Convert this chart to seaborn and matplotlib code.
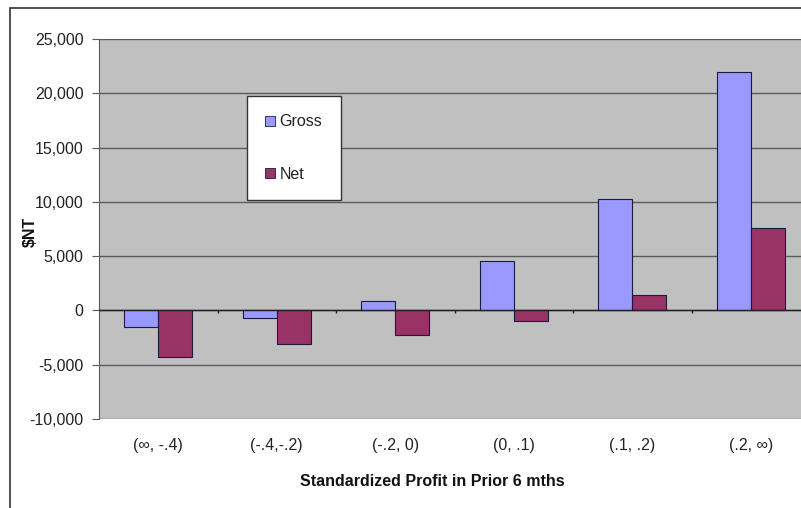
import matplotlib
matplotlib.use("Agg")
import matplotlib.pyplot as plt
from matplotlib.patches import Patch, Rectangle
from matplotlib.ticker import FuncFormatter
import pandas as pd
import seaborn as sns

categories = ["(\u221e, -.4)", "(-.4,-.2)", "(-.2, 0)", "(0, .1)", "(.1, .2)", "(.2, \u221e)"]
gross = [-1550, -700, 900, 4550, 10300, 22000]
net = [-4300, -3050, -2300, -1000, 1400, 7550]
series = ["Gross", "Net"]
colors = {"Gross": "#9999FF", "Net": "#993366"}

df = pd.DataFrame({
    "bucket": categories * 2,
    "series": ["Gross"] * len(categories) + ["Net"] * len(categories),
    "value": gross + net,
})

sns.set_style("white")
plt.rcParams["font.family"] = ["Liberation Sans", "DejaVu Sans"]

fig = plt.figure(figsize=(8.01, 5.08), dpi=100)
ax = fig.add_axes([99 / 801, 89 / 508, 711 / 801, 380 / 508])
ax.set_facecolor("#C0C0C0")

sns.barplot(data=df, x="bucket", y="value", hue="series", hue_order=series,
            order=categories, palette=colors, width=0.574, gap=0,
            edgecolor="#1a1a40", linewidth=0.8, saturation=1, ax=ax, legend=False)

ax.set_ylim(-10000, 25000)
ax.set_xlim(-0.5, len(categories) - 0.5)
ax.set_yticks(range(-10000, 25001, 5000))
ax.yaxis.set_major_formatter(FuncFormatter(lambda v, p: f"{int(v):,}"))
ax.grid(axis="y", color="#5a5a5a", linewidth=1)
ax.set_axisbelow(True)
ax.axhline(0, color="#202020", linewidth=1, zorder=3)
ax.vlines([i + 0.5 for i in range(len(categories) - 1)], -250, 0, color="#202020", linewidth=1, zorder=3)

for side in ["top", "right", "bottom"]:
    ax.spines[side].set_visible(False)
ax.spines["left"].set_color("#5a5a5a")
ax.tick_params(axis="y", left=True, length=5, color="#5a5a5a", labelsize=11.5, labelcolor="#222222", pad=6)
ax.tick_params(axis="x", bottom=False, labelsize=11.5, labelcolor="#222222", pad=10)
ax.set_xlabel("")
ax.set_ylabel("")

fig.text(432 / 801, 1 - 481 / 508, "Standardized Profit in Prior 6 mths", ha="center", va="center",
         fontsize=11.5, fontweight="bold", color="#111111")
fig.text(30 / 801, 1 - 232 / 508, "$NT", ha="center", va="center", rotation=90,
         fontsize=11.5, fontweight="bold", color="#111111")

handles = [Patch(facecolor=colors[s], edgecolor="#1a1a40", linewidth=0.6) for s in series]
leg = fig.legend(handles, series, loc="upper left", bbox_to_anchor=(247 / 801, 1 - 96 / 508),
                 frameon=True, fancybox=False, edgecolor="#333333", framealpha=1,
                 fontsize=11.5, handlelength=0.6, handleheight=0.6, handletextpad=0.3,
                 labelspacing=2.35, borderpad=1.15, borderaxespad=0)
leg.get_frame().set_linewidth(1)
for t in leg.get_texts():
    t.set_color("#222222")

fig.patches.append(Rectangle((10 / 801, -0.1), 1.2, 1 - 8 / 508 + 0.1, transform=fig.transFigure,
                             fill=False, edgecolor="#333333", linewidth=1.2))

fig.savefig("out.png", dpi=100)
